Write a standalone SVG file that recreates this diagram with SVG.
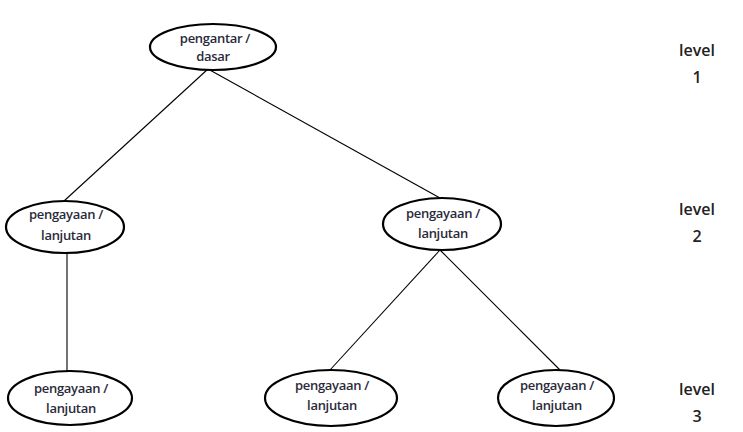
<svg xmlns="http://www.w3.org/2000/svg" width="743" height="432" viewBox="0 0 743 432">
<style>
.n ellipse{fill:#fff;stroke:#000;stroke-width:2.2}
.t{font-family:"Open Sans","Liberation Sans",sans-serif;font-size:13px;fill:#2a2a3a;text-anchor:middle;font-weight:600;letter-spacing:-0.3px}
.lv{font-family:"Open Sans","Liberation Sans",sans-serif;font-size:16px;fill:#222;text-anchor:middle;font-weight:600}
#edges line{stroke:#000;stroke-width:1.1}
</style>
<rect width="743" height="432" fill="#fff"/>
<g id="edges">
<line x1="208" y1="69" x2="64" y2="201"/>
<line x1="208" y1="69" x2="440" y2="198"/>
<line x1="67" y1="253" x2="67" y2="371"/>
<line x1="440" y1="250" x2="330" y2="370"/>
<line x1="440" y1="250" x2="560" y2="370"/>
</g>
<g id="n1" class="n"><ellipse cx="213" cy="47" rx="63" ry="23"/><text class="t" x="215" y="43">pengantar /</text><text class="t" x="213" y="61">dasar</text></g>
<g id="n2" class="n"><ellipse cx="65" cy="227" rx="59" ry="26"/><text class="t" x="66" y="219">pengayaan /</text><text class="t" x="66" y="240">lanjutan</text></g>
<g id="n3" class="n"><ellipse cx="442" cy="224" rx="59" ry="26"/><text class="t" x="443" y="218">pengayaan /</text><text class="t" x="443" y="238">lanjutan</text></g>
<g id="n4" class="n"><ellipse cx="70" cy="398" rx="62" ry="27"/><text class="t" x="71" y="393">pengayaan /</text><text class="t" x="71" y="413">lanjutan</text></g>
<g id="n5" class="n"><ellipse cx="331" cy="398" rx="66" ry="28"/><text class="t" x="332" y="390">pengayaan /</text><text class="t" x="332" y="410">lanjutan</text></g>
<g id="n6" class="n"><ellipse cx="556" cy="398" rx="58" ry="28"/><text class="t" x="557" y="390">pengayaan /</text><text class="t" x="557" y="410">lanjutan</text></g>
<g id="levels">
<text class="lv" x="697" y="56">level</text><text class="lv" x="697" y="83">1</text>
<text class="lv" x="697" y="215">level</text><text class="lv" x="697" y="242">2</text>
<text class="lv" x="697" y="395">level</text><text class="lv" x="697" y="422">3</text>
</g>
</svg>
